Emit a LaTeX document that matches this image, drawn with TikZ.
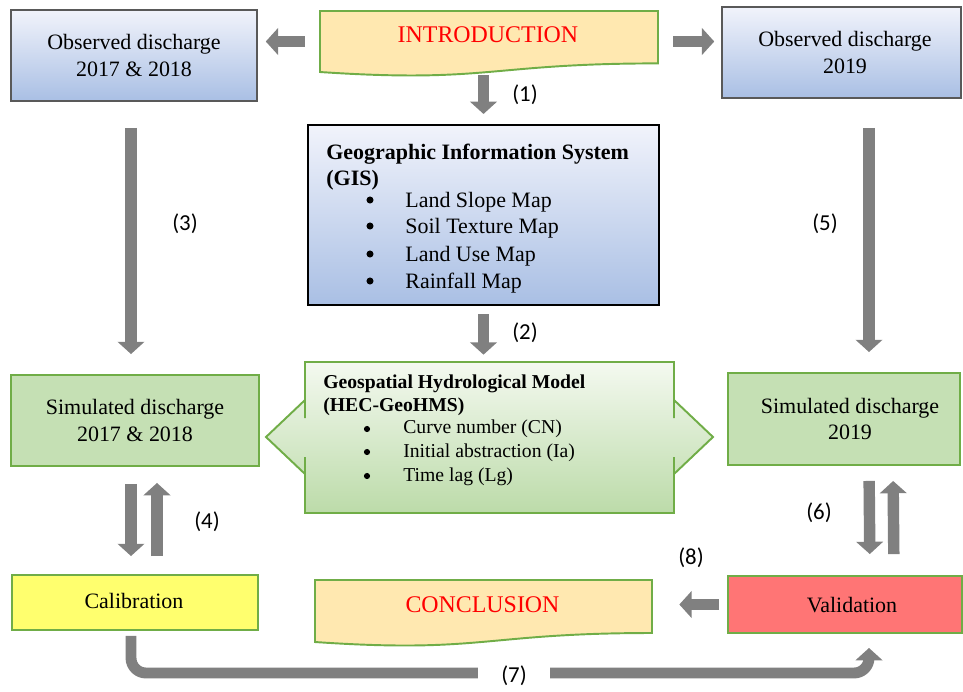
\documentclass[tikz,border=0pt]{standalone}
\usepackage{fontspec}
\setmainfont{Liberation Serif}
\newfontfamily\numfont{Carlito}
\usetikzlibrary{arrows.meta}

\definecolor{arrowgray}{HTML}{808080}
\definecolor{edgegray}{HTML}{595959}
\definecolor{edgegreen}{HTML}{70AD47}
\definecolor{obstop}{HTML}{F1F3FB}
\definecolor{obsbottom}{HTML}{A9BFE4}
\definecolor{hectop}{HTML}{F4F9F0}
\definecolor{hecbottom}{HTML}{BCDBA9}
\definecolor{simgreen}{HTML}{C5E0B4}
\definecolor{docfill}{HTML}{FFE8B0}
\definecolor{calibfill}{HTML}{FFFF6E}
\definecolor{validfill}{HTML}{FF7575}

\tikzset{
  obsbox/.style={rectangle, draw=edgegray, line width=0.9pt,
                 top color=obstop, bottom color=obsbottom, inner sep=0pt},
  simbox/.style={rectangle, draw=edgegreen, line width=1.1pt, inner sep=0pt},
  plainbox/.style={rectangle, inner sep=0pt},
  fat/.style={->, draw=arrowgray, line width=6.5pt},
  numlabel/.style={font=\numfont\fontsize{13}{15}\selectfont},
  boxtext/.style={font=\fontsize{12.5}{15.3}\selectfont, align=center},
  listtext/.style={font=\fontsize{11.2}{13}\selectfont, anchor=base west, inner sep=0pt},
  gistext/.style={font=\fontsize{12.5}{15}\selectfont, anchor=base west, inner sep=0pt},
  dot/.style={circle, fill=black, inner sep=0pt, minimum size=#1},
  dot/.default=4pt
}

\begin{document}
\begin{tikzpicture}[x=0.02cm, y=-0.02cm, >={Triangle[width=15pt,length=7pt]}]

    \useasboundingbox (0,0) rectangle (963,691);

    % top row
    \node[obsbox,
          minimum width = 4.92cm,
          minimum height = 1.82cm
          ] (obsA) at (134,55.5) {};
    \node[boxtext] at (obsA.center) {Observed discharge\\2017 \& 2018};

    \node[obsbox,
          minimum width = 4.78cm,
          minimum height = 1.82cm
          ] (obsB) at (841.5,52.5) {};
    \node[boxtext] at ([xshift=0.07cm]obsB.center) {Observed discharge\\2019};

    \node[plainbox,
          minimum width = 6.76cm,
          minimum height = 1.22cm
          ] (intro) at (489,41.5) {};
    \draw[draw=edgegreen, line width=1.1pt, fill=docfill]
      (320,11) -- (658,11) -- (658,63.4)
      .. controls (489,63.4) and (489,83.3) .. (320,72) -- cycle;
    \node[font=\fontsize{13.6}{16}\selectfont, text=red, anchor=base] at (488,42) {INTRODUCTION};

    % GIS
    \node[rectangle,
          draw = black,
          line width = 1.2pt,
          top color = obstop,
          bottom color = obsbottom,
          minimum width = 7.02cm,
          minimum height = 3.6cm
          ] (gis) at (483.5,215) {};
    \node[gistext, font=\bfseries\fontsize{12.5}{15}\selectfont] at (326,159) {Geographic Information System};
    \node[gistext, font=\bfseries\fontsize{12.5}{15}\selectfont] at (326,185) {(GIS)};
    \node[dot] (g1) at (370,200) {};
    \node[gistext] at (405,207) {Land Slope Map};
    \node[dot] (g2) at (370,226) {};
    \node[gistext] at (405,233) {Soil Texture Map};
    \node[dot] (g3) at (370,254) {};
    \node[gistext] at (405,261) {Land Use Map};
    \node[dot] (g4) at (370,281) {};
    \node[gistext] at (405,288) {Rainfall Map};

    % HEC-GeoHMS
    \node[plainbox,
          minimum width = 7.38cm,
          minimum height = 3.02cm
          ] (hec) at (489.5,437.5) {};
    \draw[draw=edgegreen, line width=1.1pt, top color=hectop, bottom color=hecbottom]
      (305,362) -- (674,362) -- (674,418) -- (674,400) -- (713,437) -- (674,474)
      -- (674,457) -- (674,513) -- (305,513) -- (305,457) -- (305,474)
      -- (266,437) -- (305,400) -- (305,418) -- cycle;
    \node[listtext, font=\bfseries\fontsize{11.2}{13}\selectfont] at (323,388) {Geospatial Hydrological Model};
    \node[listtext, font=\bfseries\fontsize{11.2}{13}\selectfont] at (323,411) {(HEC-GeoHMS)};
    \node[dot=3.5pt] (h1) at (367,429) {};
    \node[listtext] at (403,433) {Curve number (CN)};
    \node[dot=3.5pt] (h2) at (367,452) {};
    \node[listtext] at (403,457) {Initial abstraction (Ia)};
    \node[dot=3.5pt] (h3) at (367,476) {};
    \node[listtext] at (403,481) {Time lag (Lg)};

    % simulated
    \node[simbox,
          fill = simgreen,
          minimum width = 4.96cm,
          minimum height = 1.82cm
          ] (simA) at (135,420.5) {};
    \node[boxtext] at (simA.center) {Simulated discharge\\2017 \& 2018};

    \node[simbox,
          fill = simgreen,
          minimum width = 4.64cm,
          minimum height = 1.84cm
          ] (simB) at (844,419) {};
    \node[boxtext] at ([xshift=0.12cm]simB.center) {Simulated discharge\\2019};

    % bottom row
    \node[simbox,
          fill = calibfill,
          minimum width = 4.92cm,
          minimum height = 1.1cm
          ] (calib) at (135,602.5) {};
    \node[boxtext, anchor=base] at (134,608) {Calibration};

    \node[simbox,
          fill = validfill,
          minimum width = 4.68cm,
          minimum height = 1.14cm
          ] (valid) at (845,604.5) {};
    \node[boxtext, anchor=base] at (852,612) {Validation};

    \node[plainbox,
          minimum width = 6.74cm,
          minimum height = 1.24cm
          ] (concl) at (483.5,611) {};
    \draw[draw=edgegreen, line width=1.1pt, fill=docfill]
      (315,580) -- (652,580) -- (652,633)
      .. controls (483.5,633) and (483.5,653.5) .. (315,642) -- cycle;
    \node[font=\fontsize{13.6}{16}\selectfont, text=red, anchor=base] at (482.5,612) {CONCLUSION};

    % arrows
    \coordinate (low) at (0,673);
    \draw[fat, shorten <=0.3cm, shorten >=0.16cm] (intro.west) -- (intro.west -| obsA.east);
    \draw[fat, shorten <=0.3cm, shorten >=0.14cm] (intro.east) -- (intro.east -| obsB.west);
    \draw[fat, shorten <=0.06cm, shorten >=0.2cm] (intro.south -| gis.north) -- (gis.north);
    \draw[fat, shorten <=0.16cm, shorten >=0.14cm] (gis.south) -- (gis.south |- hec.north);
    \draw[fat, shorten <=0.52cm, shorten >=0.4cm] ([xshift=-0.06cm]obsA.south) -- ([xshift=-0.06cm]obsA.south |- simA.north);
    \draw[fat, shorten <=0.58cm, shorten >=0.4cm] ([xshift=0.55cm]obsB.south) -- ([xshift=0.55cm]obsB.south |- simB.north);
    \draw[fat, shorten <=0.34cm, shorten >=0.36cm] ([xshift=-0.08cm]simA.south) -- ([xshift=-0.08cm]calib.north);
    \draw[fat, shorten <=0.36cm, shorten >=0.32cm] ([xshift=0.44cm]calib.north) -- ([xshift=0.44cm]simA.south);
    \draw[fat, shorten <=0.3cm, shorten >=0.42cm] ([xshift=0.5cm]simB.south) -- ([xshift=0.5cm]valid.north);
    \draw[fat, shorten <=0.42cm, shorten >=0.3cm] ([xshift=0.98cm]valid.north) -- ([xshift=0.98cm]simB.south);
    \draw[fat, shorten <=0.16cm, shorten >=0.54cm] (valid.west) -- (valid.west -| concl.east);
    \draw[fat, line width=6.2pt, rounded corners=0.3cm, shorten <=0.1cm, shorten >=0.28cm]
      ([xshift=-0.08cm]calib.south) |- ([xshift=0.48cm]valid.south |- low) -- ([xshift=0.48cm]valid.south);

    % labels
    \node[numlabel] (n1) at (525,95) {(1)};
    \node[numlabel] (n2) at (525,333) {(2)};
    \node[numlabel] (n3) at (185,224) {(3)};
    \node[numlabel] (n5) at (825,224) {(5)};
    \node[numlabel] (n4) at (207,522) {(4)};
    \node[numlabel] (n6) at (819,513) {(6)};
    \node[numlabel] (n8) at (691,558) {(8)};
    \node[numlabel, fill=white, minimum width=1.44cm, inner sep=0pt] (n7) at (514,676) {(7)};

\end{tikzpicture}
\end{document}
